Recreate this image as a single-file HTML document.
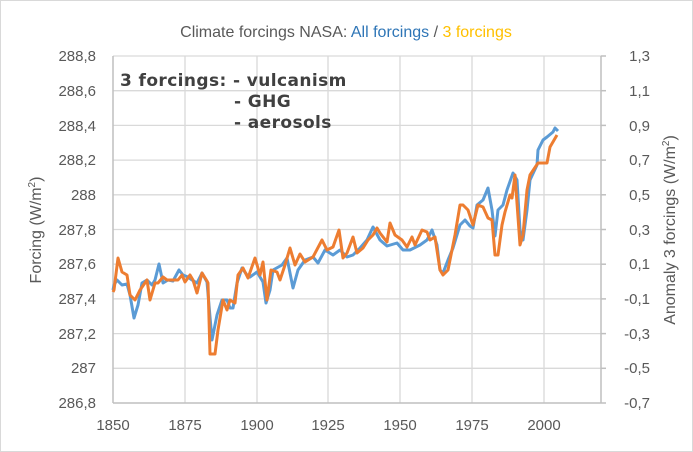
<!DOCTYPE html>
<html><head><meta charset="utf-8"><style>
html,body{margin:0;padding:0;background:#fff}
svg{display:block;font-family:"Liberation Sans",sans-serif}
</style></head><body>
<svg width="693" height="452" viewBox="0 0 693 452">
<rect x="0.5" y="0.5" width="692" height="451" fill="#fff" stroke="#d9d9d9"/>
<g stroke="#d9d9d9" stroke-width="1.3">
<line x1="113" y1="56" x2="601" y2="56"/><line x1="113" y1="90.7" x2="601" y2="90.7"/><line x1="113" y1="125.4" x2="601" y2="125.4"/><line x1="113" y1="160.1" x2="601" y2="160.1"/><line x1="113" y1="194.8" x2="601" y2="194.8"/><line x1="113" y1="229.5" x2="601" y2="229.5"/><line x1="113" y1="264.2" x2="601" y2="264.2"/><line x1="113" y1="298.9" x2="601" y2="298.9"/><line x1="113" y1="333.6" x2="601" y2="333.6"/><line x1="113" y1="368.3" x2="601" y2="368.3"/>
<line x1="185" y1="56" x2="185" y2="403"/><line x1="257" y1="56" x2="257" y2="403"/><line x1="328" y1="56" x2="328" y2="403"/><line x1="400" y1="56" x2="400" y2="403"/><line x1="472" y1="56" x2="472" y2="403"/><line x1="544" y1="56" x2="544" y2="403"/>
</g>
<g stroke="#bfbfbf" stroke-width="1.5">
<line x1="113" y1="56" x2="113" y2="403"/><line x1="601" y1="56" x2="601" y2="403"/><line x1="113" y1="403" x2="601" y2="403"/>
<line x1="601" y1="56" x2="606" y2="56"/><line x1="601" y1="90.7" x2="606" y2="90.7"/><line x1="601" y1="125.4" x2="606" y2="125.4"/><line x1="601" y1="160.1" x2="606" y2="160.1"/><line x1="601" y1="194.8" x2="606" y2="194.8"/><line x1="601" y1="229.5" x2="606" y2="229.5"/><line x1="601" y1="264.2" x2="606" y2="264.2"/><line x1="601" y1="298.9" x2="606" y2="298.9"/><line x1="601" y1="333.6" x2="606" y2="333.6"/><line x1="601" y1="368.3" x2="606" y2="368.3"/><line x1="601" y1="403" x2="606" y2="403"/>
</g>
<polyline fill="none" stroke="#5b9bd5" stroke-width="3" stroke-linejoin="round" points="113,290 114,285 117,280 122,285 127,284 130,295 134,318 138,305 142,283 147,280 152,285 155,280 159,264 163,283 168,280 173,281 179,270 183,275 188,277 192,280 197,283 202,273 207,282 212,340 217,315 222,300 227,300 230,308 233,308 237,283 242,268 247,275 250,277 257,272 263,282 266,303 270,290 273,270 282,265 287,258 293,288 298,270 305,260 313,257 318,263 325,250 333,255 340,250 347,257 353,255 360,248 367,240 373,227 380,240 387,246 397,243 403,250 410,250 420,245 427,240 432,230 437,245 440,270 443,273 448,260 453,248 460,225 465,220 470,226 473,228 477,205 483,200 488,188 492,210 495,236 498,210 503,205 507,190 513,173 517,180 520,230 523,240 527,210 530,180 537,165 538,150 543,140 547,137 553,132 555,128 558,131"/>
<polyline fill="none" stroke="#ed7d31" stroke-width="3" stroke-linejoin="round" points="113,292 114,290 118,258 122,272 127,275 130,295 135,300 140,290 147,280 150,300 155,283 158,283 163,277 167,280 178,280 182,275 185,282 190,275 193,280 197,293 202,273 207,281 208,283 210,354 215,354 218,330 223,300 227,310 230,300 235,303 238,275 243,268 248,278 255,258 260,275 263,262 267,300 271,270 277,272 280,280 285,265 290,248 295,265 300,254 305,262 313,257 322,240 327,250 333,247 339,230 343,258 347,253 353,237 357,253 363,248 368,240 373,235 377,228 380,233 387,242 390,223 395,235 402,240 407,247 412,237 415,245 422,230 427,232 430,240 435,237 440,270 443,275 448,270 455,235 460,205 463,205 468,210 473,225 478,205 483,207 488,218 492,220 495,255 498,255 502,225 505,212 510,195 512,198 515,175 520,245 523,235 527,190 530,175 538,163 547,163 550,147 557,135"/>
<text x="346" y="37" text-anchor="middle" font-size="16" fill="#595959">Climate forcings NASA: <tspan fill="#2e75b6">All forcings</tspan> / <tspan fill="#ffc000">3 forcings</tspan></text>
<g font-size="15" fill="#595959" text-anchor="end">
<text x="96" y="61">288,8</text><text x="96" y="96">288,6</text><text x="96" y="131">288,4</text><text x="96" y="165">288,2</text><text x="96" y="200">288</text><text x="96" y="235">287,8</text><text x="96" y="269">287,6</text><text x="96" y="304">287,4</text><text x="96" y="339">287,2</text><text x="96" y="373">287</text><text x="96" y="408">286,8</text>
</g>
<g font-size="15" fill="#595959" text-anchor="end">
<text x="650" y="61">1,3</text><text x="650" y="96">1,1</text><text x="650" y="131">0,9</text><text x="650" y="165">0,7</text><text x="650" y="200">0,5</text><text x="650" y="235">0,3</text><text x="650" y="269">0,1</text><text x="650" y="304">-0,1</text><text x="650" y="339">-0,3</text><text x="650" y="373">-0,5</text><text x="650" y="408">-0,7</text>
</g>
<g font-size="15" fill="#595959" text-anchor="middle">
<text x="113" y="430">1850</text><text x="185" y="430">1875</text><text x="257" y="430">1900</text><text x="328" y="430">1925</text><text x="400" y="430">1950</text><text x="472" y="430">1975</text><text x="544" y="430">2000</text>
</g>
<text transform="translate(41,230) rotate(-90)" text-anchor="middle" font-size="16" fill="#595959">Forcing (W/m<tspan font-size="10" dy="-6">2</tspan><tspan dy="6">)</tspan></text>
<text transform="translate(675,230) rotate(-90)" text-anchor="middle" font-size="16" fill="#595959">Anomaly 3 forcings  (W/m<tspan font-size="10" dy="-6">2</tspan><tspan dy="6">)</tspan></text>
<g font-size="17" font-weight="bold" fill="#404040" letter-spacing="0.4" style="font-family:'DejaVu Sans',sans-serif">
<text x="120" y="86">3 forcings: - vulcanism</text>
<text x="234" y="107">- GHG</text>
<text x="234" y="128">- aerosols</text>
</g>
</svg>
</body></html>
